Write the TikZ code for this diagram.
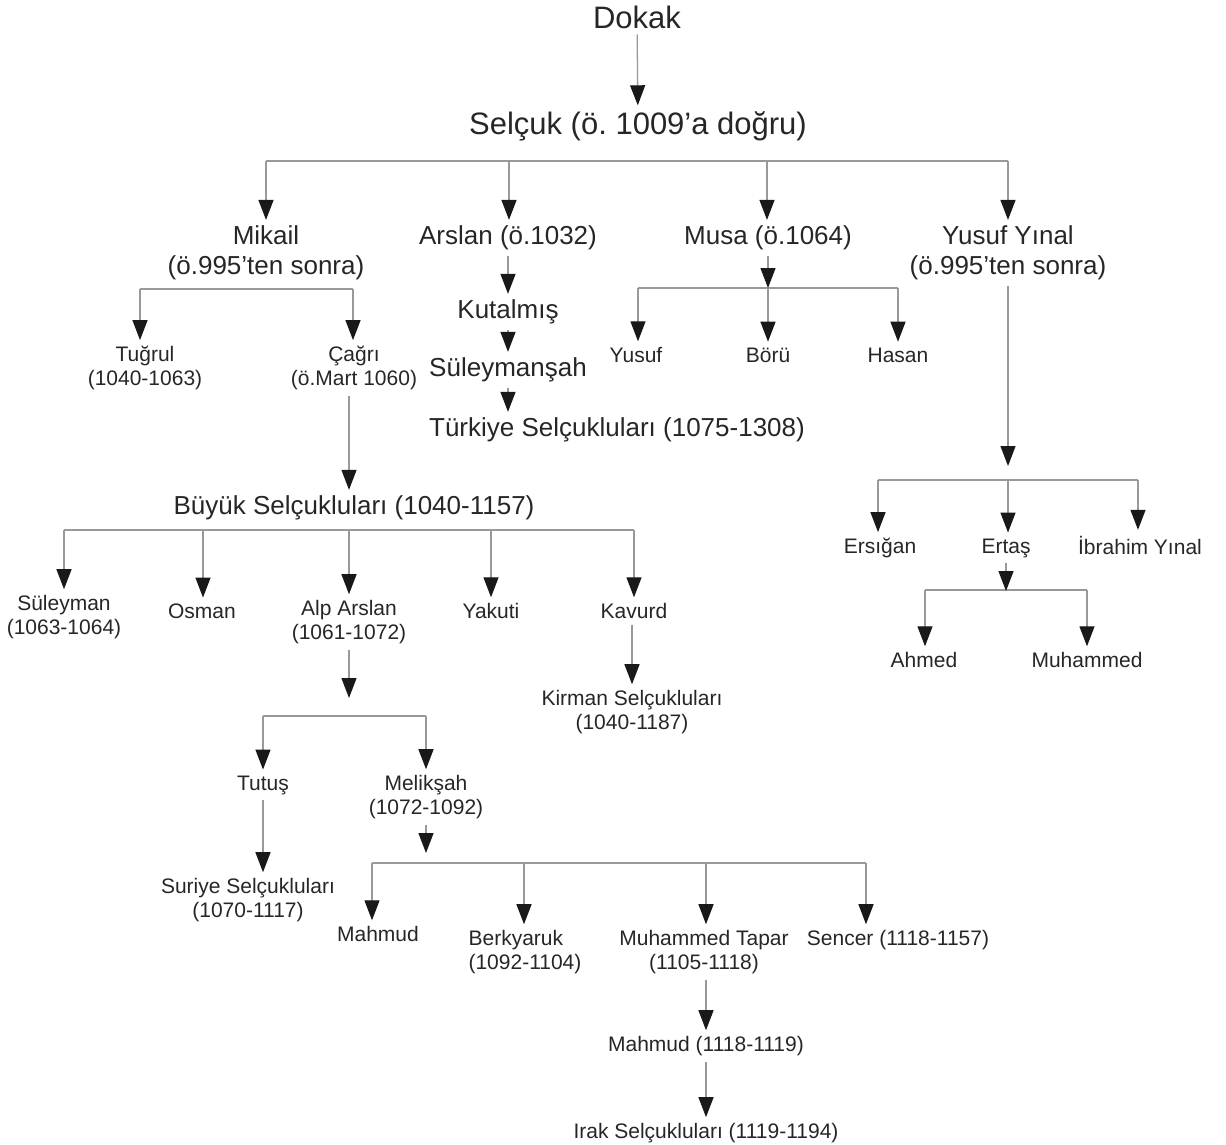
\documentclass[tikz,border=0pt]{standalone}
\usepackage{fontspec}
\setmainfont{Liberation Sans}
\usetikzlibrary{arrows.meta}
\frenchspacing
\tikzset{
  base/.style={inner sep=6pt, outer sep=0pt, text=black!85, align=center},
  L/.style={base, font=\fontsize{31}{36}\selectfont\frenchspacing},
  M/.style={base, font=\fontsize{26}{30}\selectfont\frenchspacing},
  S/.style={base, font=\fontsize{21}{24}\selectfont\frenchspacing},
  ln/.style={draw=black!40, line width=1.3pt},
  arr/.style={ln, -{Triangle[length=20pt,width=15pt,color=black!90]}},
}
\begin{document}
\begin{tikzpicture}[x=1pt,y=-1pt]
\useasboundingbox (0,0) rectangle (1226,1144);
% nodes
\node[L] (dokak) at (637,17) {Dokak};
\node[L] (selcuk) at (638,126) {Selçuk (ö. 1009’a doğru)};
\node[M] (mikail) at (266,253) {Mikail\\(ö.995’ten sonra)};
\node[M] (arslan) at (508,238) {Arslan (ö.1032)};
\node[M] (musa) at (768,238) {Musa (ö.1064)};
\node[M] (yinal) at (1008,253) {Yusuf Yınal\\(ö.995’ten sonra)};
\node[S] (tugrul) at (145,368) {Tuğrul\\(1040-1063)};
\node[S] (cagri) at (354,368) {Çağrı\\(ö.Mart 1060)};
\node[M] (kutalmis) at (508,312) {Kutalmış};
\node[M] (sulsah) at (508,370) {Süleymanşah};
\node[M] (turkiye) at (617,430) {Türkiye Selçukluları (1075-1308)};
\node[S] (yusuf) at (636,355) {Yusuf};
\node[S] (boru) at (768,355) {Börü};
\node[S] (hasan) at (898,355) {Hasan};
\node[M] (buyuk) at (354,508) {Büyük Selçukluları (1040-1157)};
\node[S] (suleyman) at (64,617) {Süleyman\\(1063-1064)};
\node[S] (osman) at (202,611) {Osman};
\node[S] (alp) at (349,622) {Alp Arslan\\(1061-1072)};
\node[S] (yakuti) at (491,611) {Yakuti};
\node[S] (kavurd) at (634,611) {Kavurd};
\node[S] (kirman) at (632,712) {Kirman Selçukluları\\(1040-1187)};
\node[S] (tutus) at (263,785) {Tutuş};
\node[S] (meliksah) at (426,797) {Melikşah\\(1072-1092)};
\node[S] (suriye) at (248,900) {Suriye Selçukluları\\(1070-1117)};
\node[S] (mahmuda) at (378,934) {Mahmud};
\node[S, align=left] (berk) at (525,952) {Berkyaruk\\(1092-1104)};
\node[S] (tapar) at (704,952) {Muhammed Tapar\\(1105-1118)};
\node[S] (sencer) at (898,940) {Sencer (1118-1157)};
\node[S] (mahmudb) at (706,1046) {Mahmud (1118-1119)};
\node[S] (irak) at (706,1133) {Irak Selçukluları (1119-1194)};
\node[S] (ersigan) at (880,548) {Ersığan};
\node[S] (ertas) at (1006,548) {Ertaş};
\node[S] (ibrahim) at (1140,545) {İbrahim Yınal};
\node[S] (ahmed) at (924,660) {Ahmed};
\node[S] (muhammed) at (1087,660) {Muhammed};
% bar coordinates
\coordinate (b1a) at (266,161); \coordinate (b1b) at (509,161);
\coordinate (b1c) at (767,161); \coordinate (b1d) at (1008,161);
\coordinate (b2a) at (140,289); \coordinate (b2b) at (353,289);
\coordinate (b3a) at (638,288); \coordinate (b3b) at (768,288); \coordinate (b3c) at (898,288);
\coordinate (b4t) at (1008,466);
\coordinate (b4a) at (878,480); \coordinate (b4b) at (1008,480); \coordinate (b4c) at (1138,480);
\coordinate (b5t) at (1006,591);
\coordinate (b5a) at (925,590); \coordinate (b5b) at (1087,590);
\coordinate (b6a) at (64,530); \coordinate (b6b) at (203,530); \coordinate (b6c) at (349,530);
\coordinate (b6d) at (491,530); \coordinate (b6e) at (634,530);
\coordinate (b7t) at (349,698);
\coordinate (b7a) at (263,716); \coordinate (b7b) at (426,716);
\coordinate (b8t) at (426,853);
\coordinate (b8a) at (372,863); \coordinate (b8b) at (524,863);
\coordinate (b8c) at (706,863); \coordinate (b8d) at (866,863);
% bars
\draw[ln] (b1a) -- (b1d);
\draw[ln] (b2a) -- (b2b);
\draw[ln] (b3a) -- (b3c);
\draw[ln] (b4a) -- (b4c);
\draw[ln] (b5a) -- (b5b);
\draw[ln] (b6a) -- (b6e);
\draw[ln] (b7a) -- (b7b);
\draw[ln] (b8a) -- (b8d);
% connectors
\draw[arr] (dokak) -- (selcuk);
\draw[arr] (b1a) -- (mikail);
\draw[arr] (b1b) -- (b1b |- arslan.north);
\draw[arr] (b1c) -- (b1c |- musa.north);
\draw[arr] (b1d) -- (yinal);
\draw[arr] (b2a) -- (b2a |- tugrul.north);
\draw[arr] (b2b) -- (b2b |- cagri.north);
\draw[arr] (arslan) -- (kutalmis);
\draw[arr] (kutalmis) -- (sulsah);
\draw[arr] (sulsah.south) -- (sulsah.south |- turkiye.north);
\draw[arr] (musa.south -| b3b) -- (b3b);
\draw[arr] (b3a) -- (b3a |- yusuf.north);
\draw[arr] (b3b) -- (boru);
\draw[arr] (b3c) -- (b3c |- hasan.north);
\draw[arr] (yinal) -- (b4t);
\draw[arr] (b4a) -- (b4a |- ersigan.north);
\draw[arr] (b4b) -- (b4b |- ertas.north);
\draw[arr] (b4c) -- (b4c |- ibrahim.north);
\draw[arr] (ertas.south -| b5t) -- (b5t);
\draw[arr] (b5a) -- (b5a |- ahmed.north);
\draw[arr] (b5b) -- (b5b |- muhammed.north);
\draw[arr] (cagri.south -| b6c) -- (b6c |- buyuk.north);
\draw[arr] (b6a) -- (b6a |- suleyman.north);
\draw[arr] (b6b) -- (b6b |- osman.north);
\draw[arr] (b6c) -- (b6c |- alp.north);
\draw[arr] (b6d) -- (b6d |- yakuti.north);
\draw[arr] (b6e) -- (b6e |- kavurd.north);
\draw[arr] (kavurd.south -| kirman.north) -- (kirman.north);
\draw[arr] (alp.south -| b7t) -- (b7t);
\draw[arr] (b7a) -- (b7a |- tutus.north);
\draw[arr] (b7b) -- (b7b |- meliksah.north);
\draw[arr] (tutus.south) -- (tutus.south |- suriye.north);
\draw[arr] (meliksah.south -| b8t) -- (b8t);
\draw[arr] (b8a) -- (b8a |- mahmuda.north);
\draw[arr] (b8b) -- (b8b |- berk.north);
\draw[arr] (b8c) -- (b8c |- tapar.north);
\draw[arr] (b8d) -- (b8d |- sencer.north);
\draw[arr] (tapar.south -| b8c) -- (b8c |- mahmudb.north);
\draw[arr] (mahmudb.south -| b8c) -- (b8c |- irak.north);
\end{tikzpicture}
\end{document}
